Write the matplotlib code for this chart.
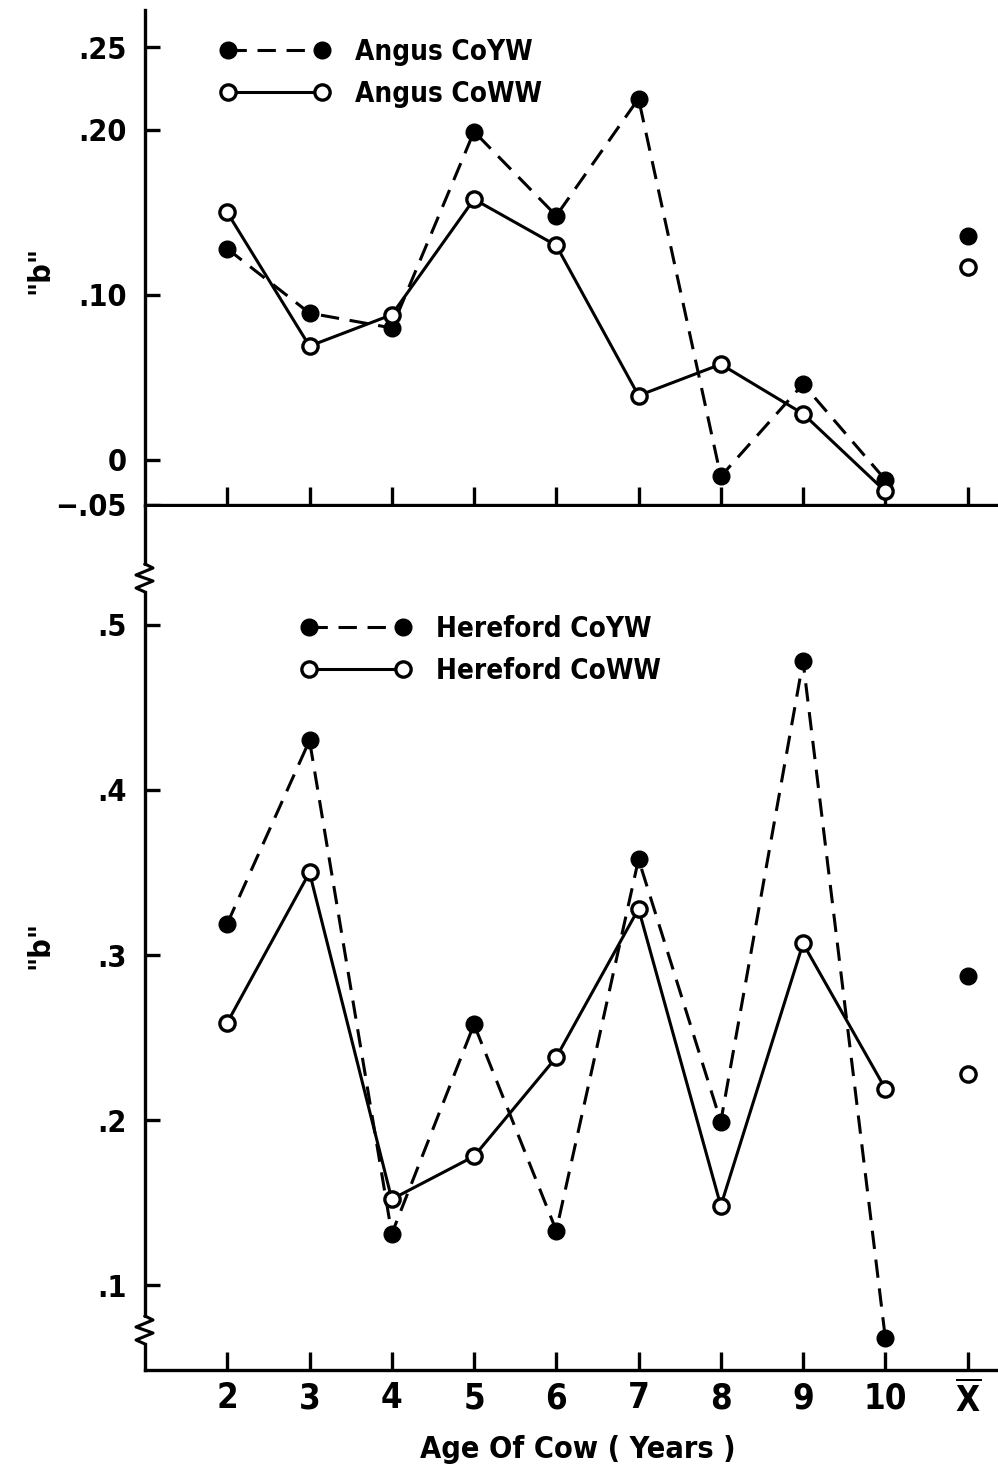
import matplotlib
matplotlib.use('Agg')
import matplotlib.pyplot as plt
from matplotlib import font_manager

# fonts: condensed bold sans if available
conds = [f for f in font_manager.fontManager.ttflist
         if f.name == 'DejaVu Sans' and 'ondensed' in f.fname and f.weight in ('bold', 700)]
plt.rcParams['font.family'] = ['DejaVu Sans']
plt.rcParams['font.weight'] = 'bold'
if conds:
    plt.rcParams['font.stretch'] = 'condensed'
plt.rcParams['mathtext.fontset'] = 'custom'
plt.rcParams['mathtext.rm'] = 'DejaVu Sans:bold'

# data
ages = [2, 3, 4, 5, 6, 7, 8, 9, 10]
mean_pos = 11
x_labels = ['2', '3', '4', '5', '6', '7', '8', '9', '10', r'$\overline{\mathrm{X}}$']

angus_coyw = [0.128, 0.089, 0.080, 0.199, 0.148, 0.219, -0.010, 0.046, -0.012]
angus_coww = [0.150, 0.069, 0.088, 0.158, 0.130, 0.039, 0.058, 0.028, -0.019]
angus_coyw_mean = 0.136
angus_coww_mean = 0.117

hereford_coyw = [0.319, 0.430, 0.131, 0.258, 0.133, 0.358, 0.199, 0.478, 0.068]
hereford_coww = [0.259, 0.350, 0.152, 0.178, 0.238, 0.328, 0.148, 0.307, 0.219]
hereford_coyw_mean = 0.287
hereford_coww_mean = 0.228

top_ticks = [-0.0273, 0, 0.10, 0.20, 0.25]
top_labels = ['\u2212.05', '0', '.10', '.20', '.25']
bot_ticks = [0.1, 0.2, 0.3, 0.4, 0.5]
bot_labels = ['.1', '.2', '.3', '.4', '.5']

W, H = 998, 1472
fig = plt.figure(figsize=(W / 100, H / 100), dpi=100)
ax1 = fig.add_axes([145 / W, 1 - 505 / H, 853 / W, 495 / H])
ax2 = fig.add_axes([145 / W, 1 - 1370 / H, 853 / W, 863 / H])

LW = 2.2
dash = (6, 3.5)


def draw(ax, yw, ww, yw_mean, ww_mean, name):
    ax.plot(ages, yw, color='black', lw=LW, dashes=dash, marker='o', ms=12,
            mfc='black', mec='black', label=name + ' CoYW', zorder=3)
    ax.plot(ages, ww, color='black', lw=LW, marker='o', ms=11, mfc='white',
            mec='black', mew=2.4, label=name + ' CoWW', zorder=4)
    ax.plot([mean_pos], [yw_mean], 'o', color='black', ms=12, zorder=3)
    ax.plot([mean_pos], [ww_mean], 'o', mfc='white', mec='black', mew=2.4,
            ms=11, zorder=4)
    for s in ['top', 'right']:
        ax.spines[s].set_visible(False)
    for s in ['left', 'bottom']:
        ax.spines[s].set_linewidth(2.4)
    ax.set_xlim(1.0, 11.37)
    ax.set_xticks(ages + [mean_pos])
    ax.tick_params(axis='both', direction='in', width=2.4)
    ax.tick_params(axis='y', length=11, pad=13, labelsize=22)
    ax.tick_params(axis='x', length=13, pad=8, labelsize=25)


draw(ax1, angus_coyw, angus_coww, angus_coyw_mean, angus_coww_mean, 'Angus')
draw(ax2, hereford_coyw, hereford_coww, hereford_coyw_mean, hereford_coww_mean, 'Hereford')

ax1.set_ylim(-0.0273, 0.2727)
ax1.set_yticks(top_ticks)
ax1.set_yticklabels(top_labels)
ax1.set_xticklabels([])

ax2.set_ylim(0.0485, 0.5715)
ax2.set_yticks(bot_ticks)
ax2.set_yticklabels(bot_labels)
ax2.set_xticklabels(x_labels)

leg_kw = dict(frameon=False, numpoints=2, handlelength=3.95, handletextpad=0.9,
              labelspacing=0.5, fontsize=20, loc='upper left', borderaxespad=0)
ax1.legend(bbox_to_anchor=(64 / 853, 1 - 17 / 495), **leg_kw)
ax2.legend(bbox_to_anchor=(145 / 853, 1 - 97 / 863), **leg_kw)

# y labels and x label
fig.text(40 / W, 1 - 270 / H, '"b"', rotation=90, ha='center', va='center', fontsize=22)
fig.text(40 / W, 1 - 945 / H, '"b"', rotation=90, ha='center', va='center', fontsize=22)
fig.text(578 / W, 1 - 1450 / H, 'Age Of Cow ( Years )', ha='center', va='center', fontsize=22)


# axis break marks on the left spine
def brk(yc):
    x0 = 145
    fig.patches.append(plt.Rectangle(((x0 - 4) / W, 1 - (yc + 12) / H), 8 / W, 24 / H,
                                     transform=fig.transFigure, color='white', zorder=10))
    px = [x0, x0 + 8, x0 - 9, x0 + 8, x0 - 9, x0]
    py = [yc - 14, yc - 10, yc - 3, yc + 3, yc + 10, yc + 14]
    fig.lines.append(plt.Line2D([p / W for p in px], [1 - q / H for q in py],
                                transform=fig.transFigure, color='black', lw=2.2, zorder=11))


brk(578)
brk(1330)

fig.savefig('out.png', dpi=100)
